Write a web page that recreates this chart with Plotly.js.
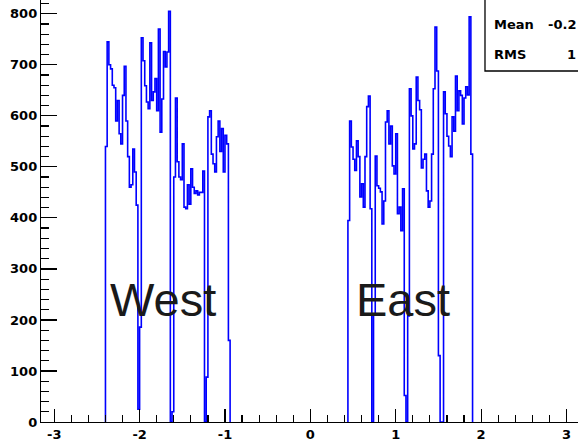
<!DOCTYPE html>
<html>
<head>
<meta charset="utf-8">
<script src="https://cdn.plot.ly/plotly-3.0.1.min.js"></script>
<style>html,body{margin:0;padding:0;background:#fff;overflow:hidden}#chart{width:578px;height:444px}</style>
</head>
<body>
<div id="chart"></div>
<script>
// Histogram bin width and starting edges of the two populated regions
const binWidth = 0.02;
const westStart = -2.40;
const eastStart = 0.44;
// Bin contents
const westCounts = [540,745,700,692,660,655,590,630,565,545,640,697,590,520,460,465,535,490,425,25,
  186,753,708,659,627,614,743,630,647,673,610,770,568,633,726,696,725,805,0,20,
  480,635,510,480,475,545,421,418,465,427,496,460,448,453,445,450,450,492,0,88,
  598,610,525,506,490,559,590,530,575,490,562,545,160];
const eastCounts = [395,590,539,515,493,551,520,441,467,421,520,618,639,418,0,210,
  521,463,458,451,388,433,588,610,545,580,502,486,565,408,421,375,457,52,0,208,
  653,600,535,545,676,630,612,498,515,525,453,421,433,525,653,774,688,130,0,0,
  647,604,560,541,520,598,570,678,610,649,640,584,635,657,641,794,525];
const xTickVals = [-3,-2,-1,0,1,2,3];
const yTickVals = [0,100,200,300,400,500,600,700,800];
const labels = ["West","East"];
const statNames = ["Mean","RMS"];
const statValues = ["-0.2","1"];

function stepTrace(start, counts){
  const xs=[start], ys=[0];
  for(let i=0;i<counts.length;i++){ xs.push(start+i*binWidth); ys.push(counts[i]); }
  xs.push(start+counts.length*binWidth); ys.push(0);
  return {x:xs,y:ys,type:'scatter',mode:'lines',line:{shape:'hv',color:'#0000ff',width:1.6},hoverinfo:'skip',showlegend:false,cliponaxis:false};
}

const tickFont = {family:'DejaVu Sans', size:13, weight:'bold', color:'#000'};
const layout = {
  width:578, height:444,
  margin:{l:41,r:0,t:0,b:22,pad:0},
  paper_bgcolor:'#fff', plot_bgcolor:'#fff',
  showlegend:false,
  xaxis:{range:[-3.155,3.135], showgrid:false, zeroline:false, showline:true, linecolor:'#000', linewidth:1.2,
    ticks:'inside', ticklen:13, tickwidth:1.2, tickcolor:'#000', tickvals:xTickVals, ticktext:xTickVals.map(String),
    tickfont:tickFont, minor:{ticks:'inside', ticklen:7, dtick:0.2, tick0:0, tickcolor:'#000', tickwidth:1.2, showgrid:false}},
  yaxis:{range:[0,827], showgrid:false, zeroline:false, showline:true, linecolor:'#000', linewidth:1.2,
    ticks:'inside', ticklen:16, tickwidth:1.2, tickcolor:'#000', tickvals:yTickVals, ticktext:yTickVals.map(String),
    tickfont:tickFont, minor:{ticks:'inside', ticklen:8, dtick:20, tick0:0, tickcolor:'#000', tickwidth:1.2, showgrid:false}},
  shapes:[{type:'rect', xref:'paper', yref:'paper', x0:0.8268, x1:1.2, y0:0.8318, y1:1.2, line:{color:'#000',width:1.3}, fillcolor:'#fff', layer:'above'}],
  annotations:[
    {text:labels[0], x:-1.727, y:240, xref:'x', yref:'y', showarrow:false, xanchor:'center', yanchor:'middle', font:{family:'Liberation Sans', size:47, color:'#1a1a1a'}},
    {text:labels[1], x:1.083, y:240, xref:'x', yref:'y', showarrow:false, xanchor:'center', yanchor:'middle', font:{family:'Liberation Sans', size:47, color:'#1a1a1a'}},
    {text:statNames[0], x:0.8399, y:0.943, xref:'paper', yref:'paper', showarrow:false, xanchor:'left', yanchor:'middle', font:tickFont},
    {text:statNames[1], x:0.8399, y:0.8697, xref:'paper', yref:'paper', showarrow:false, xanchor:'left', yanchor:'middle', font:tickFont},
    {text:statValues[0], x:1.0, y:0.943, xref:'paper', yref:'paper', showarrow:false, xanchor:'right', yanchor:'middle', font:tickFont},
    {text:statValues[1], x:1.0, y:0.8697, xref:'paper', yref:'paper', showarrow:false, xanchor:'right', yanchor:'middle', font:tickFont}
  ]
};
Plotly.newPlot('chart',[stepTrace(westStart,westCounts),stepTrace(eastStart,eastCounts)],layout,{staticPlot:true,displayModeBar:false});
</script>
</body>
</html>
